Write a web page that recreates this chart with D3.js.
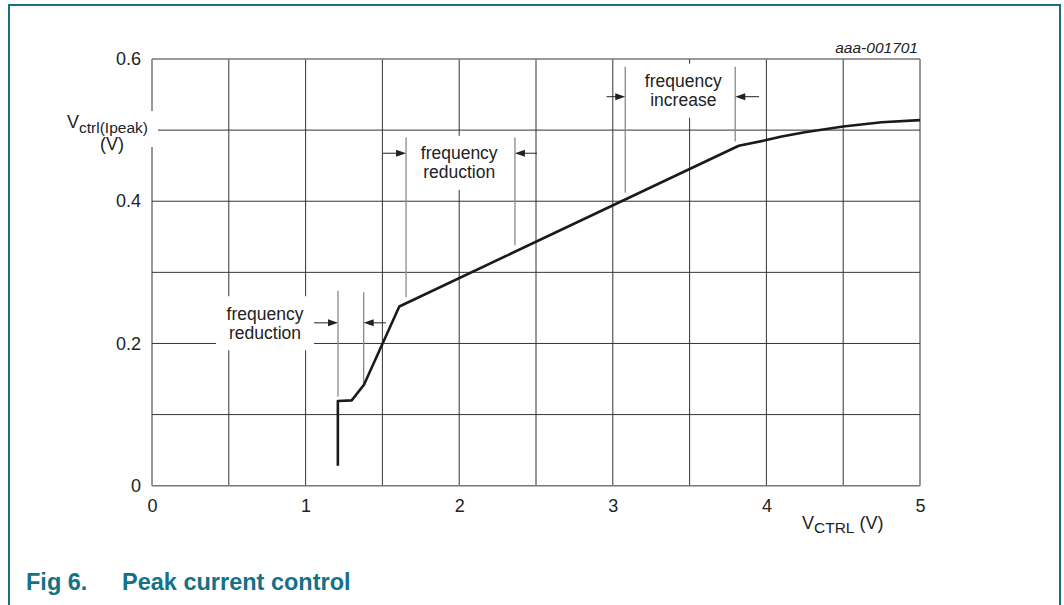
<!DOCTYPE html>
<html><head><meta charset="utf-8">
<script src="https://cdn.jsdelivr.net/npm/d3@7/dist/d3.min.js"></script>
<style>
html,body{margin:0;padding:0;background:#fff;}
svg{display:block;font-family:"Liberation Sans",Arial,sans-serif;}
</style></head>
<body>
<svg id="c" width="1064" height="605"></svg>
<script>
// ---- data ----
const xTicks = [0, 1, 2, 3, 4, 5];
const yTicks = [0, 0.2, 0.4, 0.6];
const gridX = [0, 0.5, 1, 1.5, 2, 2.5, 3, 3.5, 4, 4.5, 5];
const gridY = [0, 0.1, 0.2, 0.3, 0.4, 0.5, 0.6];
const vctrl = [1.21, 1.21, 1.30, 1.38, 1.61, 3.82, 4.0, 4.1, 4.25, 4.5, 4.75, 5.0];
const vpeak = [0.028, 0.119, 0.120, 0.142, 0.252, 0.478, 0.486, 0.491, 0.497, 0.505, 0.511, 0.514];
// annotation markers (vertical gray lines)
const markerX = [1.211, 1.378, 1.654, 2.363, 3.081, 3.797];
const markerTop = [0.274, 0.272, 0.490, 0.490, 0.589, 0.589];
const markerBottom = [0.125, 0.142, 0.265, 0.338, 0.412, 0.484];
// arrows
const arrowFrom = [1.055, 1.523, 1.504, 2.507, 2.960, 3.952];
const arrowTo = [1.211, 1.378, 1.654, 2.363, 3.081, 3.797];
const arrowY = [0.229, 0.229, 0.4675, 0.4675, 0.547, 0.547];
// annotation labels
const labelText = [["frequency", "reduction"], ["frequency", "reduction"], ["frequency", "increase"]];
const labelX = [0.736, 2.0, 3.459];
const labelY = [0.2284, 0.454, 0.5553];

const svg = d3.select("#c");
const x = d3.scaleLinear().domain([0, 5]).range([152, 920]);
const y = d3.scaleLinear().domain([0, 0.6]).range([485.7, 59]);

// frame
svg.append("rect").attr("x", 9).attr("y", 5).attr("width", 1051).attr("height", 620)
  .attr("fill", "none").attr("stroke", "#1b6f82").attr("stroke-width", 2);

// grid
const g = svg.append("g");
g.selectAll("line.gx").data(gridX).join("line")
  .attr("x1", d => x(d)).attr("x2", d => x(d)).attr("y1", y(0)).attr("y2", y(0.6))
  .attr("stroke", d => (d === 0 || d === 5) ? "#777" : "#333")
  .attr("stroke-width", d => (d === 0 || d === 5) ? 1.5 : 1);
g.selectAll("line.gy").data(gridY).join("line")
  .attr("y1", d => y(d)).attr("y2", d => y(d)).attr("x1", x(0)).attr("x2", x(5))
  .attr("stroke", d => (d === 0 || d === 0.6) ? "#777" : "#333")
  .attr("stroke-width", d => (d === 0 || d === 0.6) ? 1.5 : 1);

// white boxes behind labels
labelX.forEach((lx, i) => {
  svg.append("rect").attr("x", x(lx) - 49).attr("y", y(labelY[i]) - 27)
    .attr("width", 98).attr("height", 54).attr("fill", "#fff");
});
svg.append("rect").attr("x", 58).attr("y", 111).attr("width", 100).attr("height", 36).attr("fill", "#fff");

// axes
const xAxis = svg.append("g").attr("transform", `translate(0,${y(0)})`)
  .call(d3.axisBottom(x).tickValues(xTicks).tickSize(0).tickPadding(14).tickFormat(d3.format("d")));
xAxis.select(".domain").remove();
xAxis.selectAll("text").attr("font-size", 18).attr("fill", "#222").attr("font-family", "Liberation Sans, Arial, sans-serif");
const yAxis = svg.append("g").attr("transform", `translate(${x(0)},0)`)
  .call(d3.axisLeft(y).tickValues(yTicks).tickSize(0).tickPadding(11).tickFormat(d => d === 0 ? "0" : d3.format(".1f")(d)));
yAxis.select(".domain").remove();
yAxis.selectAll("text").attr("font-size", 18).attr("fill", "#222").attr("font-family", "Liberation Sans, Arial, sans-serif");

// axis titles
const yt = svg.append("text").attr("x", 67).attr("y", 128).attr("fill", "#222").attr("font-size", 18);
yt.append("tspan").text("V");
yt.append("tspan").attr("dy", 5).attr("font-size", 15.5).text("ctrl(Ipeak)");
svg.append("text").attr("x", 112).attr("y", 150).attr("text-anchor", "middle").attr("fill", "#222").attr("font-size", 18).text("(V)");

const xt = svg.append("text").attr("x", 802).attr("y", 529).attr("fill", "#222").attr("font-size", 18);
xt.append("tspan").text("V");
xt.append("tspan").attr("dy", 4).attr("font-size", 15.5).text("CTRL");
xt.append("tspan").attr("dy", -4).text(" (V)");

svg.append("text").attr("x", 918).attr("y", 53).attr("text-anchor", "end").attr("font-style", "italic")
  .attr("font-size", 15.5).attr("fill", "#222").text("aaa-001701");

// markers
svg.selectAll("line.mk").data(markerX).join("line")
  .attr("x1", d => x(d)).attr("x2", d => x(d))
  .attr("y1", (d, i) => y(markerTop[i])).attr("y2", (d, i) => y(markerBottom[i]))
  .attr("stroke", "#8a8a8a").attr("stroke-width", 1.3);

// arrows
arrowFrom.forEach((f, i) => {
  const x0 = x(f), x1 = x(arrowTo[i]), yy = y(arrowY[i]);
  const dir = x1 > x0 ? 1 : -1;
  svg.append("line").attr("x1", x0).attr("x2", x1 - dir * 8).attr("y1", yy).attr("y2", yy)
    .attr("stroke", "#222").attr("stroke-width", 1);
  svg.append("path").attr("d", `M${x1},${yy}L${x1 - dir * 10},${yy - 3.5}L${x1 - dir * 10},${yy + 3.5}Z`).attr("fill", "#222");
});

// labels
labelText.forEach((lines, i) => {
  const t = svg.append("text").attr("text-anchor", "middle").attr("font-size", 17.5).attr("fill", "#222");
  lines.forEach((s, j) => {
    t.append("tspan").attr("x", x(labelX[i])).attr("y", y(labelY[i]) + (j - 0.5) * 18.7 + 6).text(s);
  });
});

// curve
const pts = vctrl.map((v, i) => [v, vpeak[i]]);
svg.append("path").datum(pts)
  .attr("d", d3.line().x(d => x(d[0])).y(d => y(d[1])))
  .attr("fill", "none").attr("stroke", "#1a1a1a").attr("stroke-width", 2.6).attr("stroke-linejoin", "round");

// caption
svg.append("text").attr("x", 26).attr("y", 590).attr("font-weight", "bold").attr("font-size", 23.5).attr("fill", "#137286").text("Fig 6.");
svg.append("text").attr("x", 122).attr("y", 590).attr("font-weight", "bold").attr("font-size", 23.5).attr("fill", "#137286").text("Peak current control");
</script>
</body></html>
